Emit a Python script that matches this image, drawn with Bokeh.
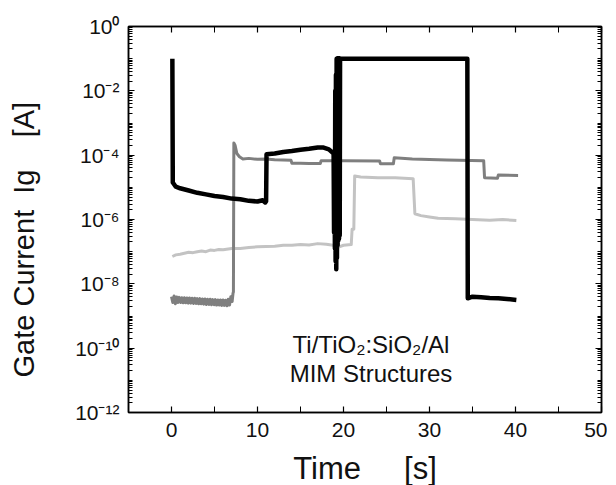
from bokeh.plotting import figure
from bokeh.models import (FixedTicker, CustomJSTickFormatter, LinearAxis, LogAxis, Label)
from bokeh.embed import file_html
from bokeh.resources import INLINE

# ---------------- data (time in s, log10 of gate current in A) ----------------
t_black = [0.1, 0.15, 0.5, 1.0, 2.0, 3.0, 4.0, 5.0, 6.0, 7.0, 8.0, 9.0, 10.0, 10.6, 10.9, 11.0,
           11.05, 12.0, 13.0, 14.0, 15.0, 16.0, 17.0, 17.6, 18.3,
           18.85, 18.9, 18.95, 19.0, 19.04, 19.08, 19.12, 19.16, 19.2, 19.24, 19.28, 19.32,
           19.36, 19.4, 19.44, 19.48, 19.52, 19.56, 19.6,
           25.0, 30.0, 34.4, 34.45, 35.0, 36.0, 37.0, 38.0, 39.0, 40.1]
lg_black = [-1.0, -4.85, -4.98, -5.03, -5.1, -5.17, -5.22, -5.27, -5.3, -5.35, -5.37, -5.42, -5.44, -5.4, -5.47, -5.43,
            -3.97, -3.95, -3.9, -3.87, -3.83, -3.8, -3.76, -3.76, -3.82,
            -3.95, -6.4, -3.9, -6.9, -2.0, -7.3, -1.5, -7.55, -1.0, -7.2, -1.0, -6.8,
            -1.0, -6.65, -1.0, -6.6, -1.0, -6.5, -1.0,
            -1.0, -1.0, -1.0, -8.45, -8.4, -8.42, -8.44, -8.45, -8.47, -8.5]

t_dark = [0.00, 0.15, 0.30, 0.45, 0.60, 0.75, 0.90, 1.05, 1.20, 1.35, 1.50, 1.65, 1.80, 1.95, 2.10, 2.25,
          2.40, 2.55, 2.70, 2.85, 3.00, 3.15, 3.30, 3.45, 3.60, 3.75, 3.90, 4.05, 4.20, 4.35, 4.50, 4.65,
          4.80, 4.95, 5.10, 5.25, 5.40, 5.55, 5.70, 5.85, 6.00, 6.15, 6.30, 6.45, 6.60, 6.75, 6.90, 7.05,
          7.15, 7.2, 7.25, 7.4, 7.6, 7.9, 8.3, 9.0, 10.0, 11.0, 12.0, 13.0, 13.9, 14.0, 15.0, 16.0, 17.3,
          17.4, 20.0, 24.2, 24.3, 25.8, 25.9, 28.0, 32.0, 36.3, 36.4, 37.9, 38.0, 40.3]
lg_dark = [-8.40, -8.58, -8.38, -8.62, -8.41, -8.58, -8.42, -8.58, -8.43, -8.59, -8.43, -8.59, -8.44, -8.60,
           -8.44, -8.60, -8.45, -8.61, -8.45, -8.61, -8.46, -8.62, -8.46, -8.62, -8.47, -8.63, -8.47, -8.64,
           -8.48, -8.64, -8.48, -8.65, -8.49, -8.65, -8.49, -8.66, -8.50, -8.66, -8.50, -8.67, -8.50, -8.67,
           -8.51, -8.68, -8.48, -8.66, -8.40, -8.55,
           -8.3, -8.25, -3.62, -3.7, -3.95, -4.05, -4.12, -4.1, -4.13, -4.12, -4.14, -4.15, -4.16, -4.25,
           -4.25, -4.26, -4.26,
           -4.17, -4.17, -4.18, -4.27, -4.27, -4.08, -4.12, -4.15, -4.17, -4.7, -4.72, -4.62, -4.63]

t_light = [0.1, 0.5, 1.0, 1.5, 2.0, 2.5, 3.0, 3.5, 4.0, 4.5, 5.0, 5.5, 6.0, 7.0, 8.0, 9.0, 10.0, 11.0,
           12.0, 13.0, 14.0, 15.0, 16.0, 17.0, 18.0, 18.8, 19.5, 20.0, 20.9, 21.0, 21.2, 21.3, 22.0,
           24.0, 26.0, 28.1, 28.3, 29.0, 30.0, 31.0, 33.0, 35.0, 37.0, 38.5, 40.1]
lg_light = [-7.15, -7.1, -7.08, -7.05, -7.02, -7.03, -7.0, -6.98, -7.0, -6.95, -6.96, -6.93, -6.94, -6.9, -6.9,
            -6.87, -6.85, -6.84, -6.83, -6.8, -6.8, -6.78, -6.79, -6.75, -6.77, -6.8, -6.85, -6.8, -6.78, -6.3,
            -6.3, -4.65, -4.68, -4.7, -4.7, -4.73, -5.82, -5.88, -5.92, -5.96, -5.98, -6.0, -6.02, -6.0, -6.03]

x_major = [0, 10, 20, 30, 40, 50]
x_minor = [5, 15, 25, 35, 45]
y_major_exp = [0, -2, -4, -6, -8, -10, -12]

FONT = "Liberation Sans"

p = figure(frame_width=473, frame_height=386, x_range=(-5, 50), y_range=(1e-12, 1),
           y_axis_type="log", output_backend="svg", toolbar_location=None,
           min_border_left=128, min_border_right=6, min_border_top=26, min_border_bottom=60)
p.grid.visible = False
p.outline_line_color = "black"
p.outline_line_width = 1.5

y_major = [10.0 ** e for e in y_major_exp]
y_minor = [m * 10.0 ** e for e in range(-12, 0) for m in range(1, 10) if not (m == 1 and e in y_major_exp)]
xt = FixedTicker(ticks=x_major, minor_ticks=x_minor)
yt = FixedTicker(ticks=y_major, minor_ticks=y_minor)

sup = CustomJSTickFormatter(code="""
const m = {'0':'\u2070','1':'\u00b9','2':'\u00b2','3':'\u00b3','4':'\u2074','5':'\u2075','6':'\u2076','7':'\u2077','8':'\u2078','9':'\u2079','-':'\u207b'};
const e = Math.round(Math.log10(tick));
return '10' + String(e).split('').map(c => m[c]).join('');
""")
blank = CustomJSTickFormatter(code="return '';")

def style(ax, labels=True):
    ax.axis_line_width = 1.5
    ax.major_tick_in = 6
    ax.major_tick_out = 0
    ax.minor_tick_in = 4
    ax.minor_tick_out = 0
    ax.major_tick_line_width = 1.2
    ax.minor_tick_line_width = 1
    ax.major_label_text_font = FONT
    ax.major_label_text_font_size = "21px" if labels else "1px"
    ax.major_label_text_color = "#111111"
    if not labels:
        ax.major_label_standoff = 0

# bottom
xa = p.xaxis[0]
xa.ticker = xt
style(xa)
xa.major_label_standoff = 10
xa.minor_tick_in = 6
xa.axis_label = "Time\u00a0\u00a0\u00a0\u00a0\u00a0[s]"
xa.axis_label_text_font = FONT
xa.axis_label_text_font_size = "31px"
xa.axis_label_text_font_style = "normal"
xa.axis_label_text_color = "#111111"
xa.axis_label_standoff = 11

# left
ya = p.yaxis[0]
ya.ticker = yt
ya.formatter = sup
style(ya)
ya.major_label_standoff = 9
ya.axis_label = "Gate Current\u00a0\u00a0Ig\u00a0\u00a0\u00a0\u00a0[A]" + "\u00a0" * 5
ya.axis_label_text_font = FONT
ya.axis_label_text_font_size = "29px"
ya.axis_label_text_font_style = "normal"
ya.axis_label_text_color = "#111111"
ya.axis_label_standoff = 32

# top and right (ticks only)
xtop = LinearAxis(ticker=xt, formatter=blank)
style(xtop, labels=False)
xtop.minor_tick_in = 6
p.add_layout(xtop, "above")
yright = LogAxis(ticker=yt, formatter=blank)
style(yright, labels=False)
p.add_layout(yright, "right")

p.line(t_light, [10.0 ** v for v in lg_light], line_color="#c3c3c3", line_width=3, line_join="round")
p.line(t_dark, [10.0 ** v for v in lg_dark], line_color="#7f7f7f", line_width=3, line_join="round")
p.line(t_black, [10.0 ** v for v in lg_black], line_color="black", line_width=4.5, line_join="round")

p.add_layout(Label(x=23.2, y=10 ** -9.88, text="Ti/TiO\u2082:SiO\u2082/Al", text_align="center",
                   text_baseline="alphabetic", text_font=FONT, text_font_size="24px", text_color="#111111"))
p.add_layout(Label(x=23.2, y=10 ** -10.8, text="MIM Structures", text_align="center",
                   text_baseline="alphabetic", text_font=FONT, text_font_size="24px", text_color="#111111"))

open("out.html", "w").write(file_html(p, INLINE))
